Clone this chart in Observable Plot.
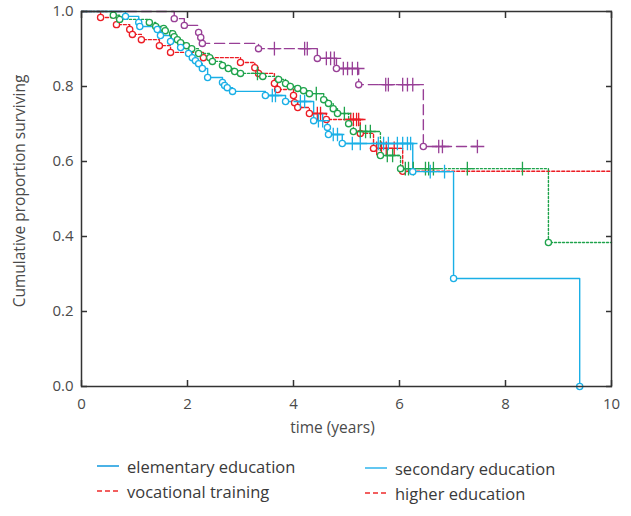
<!DOCTYPE html>
<html>
<head>
<meta charset="utf-8">
<script src="https://cdn.jsdelivr.net/npm/d3@7"></script>
<script src="https://cdn.jsdelivr.net/npm/@observablehq/plot@0.6"></script>
<style>
  body { margin: 0; background: #fff; font-family: "Open Sans", "Noto Sans", sans-serif; }
  #chart { width: 631px; }
  #legend { position: relative; width: 631px; height: 76px; color: #3a3a3a; font-size: 16.5px; }
  .item { position: absolute; display: flex; align-items: center; height: 25px; }
  .item svg { margin-right: 8px; }
</style>
</head>
<body>
<div id="chart"></div>
<div id="legend"></div>
<script>
// ---- data ----
const xTicks = [0, 2, 4, 6, 8, 10];
const yTicks = [0, 0.2, 0.4, 0.6, 0.8, 1.0];

const purpleT = [1.75, 1.94, 2.21, 2.25, 2.28, 3.34, 4.45, 4.81, 5.23, 6.45];
const purpleS = [0.981, 0.963, 0.944, 0.931, 0.915, 0.901, 0.875, 0.848, 0.805, 0.640];
const purpleCens = [3.64, 4.21, 4.26, 4.62, 4.70, 4.77, 4.94, 5.02, 5.11, 5.21, 5.74, 5.79, 6.06, 6.15, 6.25, 6.74, 6.81, 7.47];
const purpleEnd = 7.47;

const greenT = [0.60, 0.72, 1.28, 1.40, 1.55, 1.58, 1.72, 1.75, 1.81, 1.87, 1.98, 2.08, 2.21, 2.42, 2.47, 2.66, 2.77, 2.89, 3.00, 3.42, 3.72, 3.85, 3.94, 4.08, 4.19, 4.30, 4.57, 4.66, 4.75, 4.83, 5.04, 5.13, 5.64, 6.02, 8.81];
const greenS = [0.990, 0.979, 0.971, 0.960, 0.955, 0.949, 0.941, 0.933, 0.925, 0.917, 0.909, 0.901, 0.888, 0.877, 0.867, 0.856, 0.848, 0.840, 0.835, 0.827, 0.819, 0.808, 0.800, 0.795, 0.789, 0.781, 0.765, 0.755, 0.741, 0.728, 0.701, 0.680, 0.616, 0.581, 0.384];
const greenCens = [3.32, 4.43, 4.96, 5.26, 5.36, 5.45, 5.77, 5.87, 6.11, 6.17, 6.26, 6.49, 6.55, 6.64, 7.28, 8.32];
const greenEnd = 10;

const blueT = [0.83, 1.08, 1.10, 1.43, 1.49, 1.68, 1.87, 2.02, 2.09, 2.15, 2.21, 2.28, 2.38, 2.66, 2.70, 2.75, 2.85, 3.47, 3.85, 4.38, 4.64, 4.66, 4.92, 6.25, 7.02, 9.40];
const blueS = [0.987, 0.971, 0.960, 0.952, 0.936, 0.920, 0.904, 0.888, 0.877, 0.869, 0.861, 0.848, 0.824, 0.811, 0.803, 0.797, 0.787, 0.776, 0.760, 0.709, 0.691, 0.672, 0.648, 0.573, 0.288, 0.0];
const blueCens = [3.60, 3.66, 4.13, 4.21, 4.47, 4.55, 4.75, 4.83, 5.11, 5.26, 5.60, 5.70, 5.79, 5.96, 6.06, 6.15, 6.21, 6.58, 6.85];
const blueEnd = 9.40;

const redT = [0.36, 0.66, 0.91, 0.96, 1.13, 1.47, 1.68, 2.30, 3.00, 3.27, 3.34, 3.64, 3.70, 4.00, 4.02, 4.08, 4.30, 4.62, 5.26, 5.51, 6.06];
const redS = [0.984, 0.965, 0.952, 0.939, 0.925, 0.909, 0.891, 0.877, 0.864, 0.850, 0.835, 0.808, 0.792, 0.776, 0.757, 0.744, 0.728, 0.712, 0.675, 0.635, 0.574];
const redCens = [4.45, 4.51, 5.08, 5.13, 5.19, 5.23, 5.57, 5.66, 5.75, 5.90];
const redEnd = 10;

const legendLabels = ["elementary education", "vocational training", "secondary education", "higher education"];
const legendColors = ["#1f9fe0", "#ee2a2a", "#3cb9ee", "#ee2a2a"];
const legendDash = [null, "5,3", null, "5,3"];

const series = [
  {T: purpleT, S: purpleS, cens: purpleCens, end: purpleEnd, color: "#983f96", dash: "10,5"},
  {T: redT, S: redS, cens: redCens, end: redEnd, color: "#ec1c24", dash: "3,2"},
  {T: greenT, S: greenS, cens: greenCens, end: greenEnd, color: "#1fa34c", dash: "2,2"},
  {T: blueT, S: blueS, cens: blueCens, end: blueEnd, color: "#1aafe6", dash: null}
];

function survAt(s, t) {
  let v = 1;
  s.T.forEach((ti, i) => { if (ti <= t) v = s.S[i]; });
  return v;
}

const marks = [];
for (const s of series) {
  const pts = [{t: 0, S: 1}];
  s.T.forEach((t, i) => pts.push({t, S: s.S[i]}));
  pts.push({t: s.end, S: s.S[s.S.length - 1]});
  marks.push(Plot.line(pts, {x: "t", y: "S", curve: "step-after", stroke: s.color, strokeWidth: 1.4, strokeDasharray: s.dash}));
}
for (const s of series) {
  const cens = s.cens.map(t => ({t, S: survAt(s, t)}));
  marks.push(Plot.dot(cens, {x: "t", y: "S", symbol: "plus", r: 4.5, stroke: s.color, strokeWidth: 1.3}));
  const ev = s.T.map((t, i) => ({t, S: s.S[i]}));
  marks.push(Plot.dot(ev, {x: "t", y: "S", r: 3.1, stroke: s.color, fill: "white", strokeWidth: 1.3}));
}

const chart = Plot.plot({
  width: 631,
  height: 440,
  marginLeft: 81,
  marginRight: 20,
  marginTop: 11,
  marginBottom: 54,
  x: {domain: [0, 10], label: null},
  y: {domain: [0, 1], label: null},
  style: {fontFamily: "'Open Sans', 'Noto Sans', sans-serif", fontSize: "15px", color: "#4a4a4a", background: "white"},
  marks: [
    ...marks,
    Plot.frame({stroke: "#333", strokeWidth: 1.5}),
    Plot.axisX(xTicks, {anchor: "bottom", tickSize: -6, tickPadding: 18, stroke: "#333", strokeWidth: 1.5, label: null}),
    Plot.axisX(xTicks, {anchor: "top", tickSize: -6, tickFormat: () => "", stroke: "#333", strokeWidth: 1.5, label: null}),
    Plot.axisY(yTicks, {anchor: "left", tickSize: -6, tickPadding: 14, tickFormat: d3.format(".1f"), stroke: "#333", strokeWidth: 1.5, label: null}),
    Plot.axisY(yTicks, {anchor: "right", tickSize: -6, tickFormat: () => "", stroke: "#333", strokeWidth: 1.5, label: null}),
    Plot.text(["time (years)"], {frameAnchor: "bottom", dx: -14, dy: 46, text: d => d, fill: "#4a4a4a", fontSize: 15.5}),
    Plot.text(["Cumulative proportion surviving"], {frameAnchor: "left", textAnchor: "middle", rotate: -90, dx: -61, dy: -8, text: d => d, fill: "#4a4a4a", fontSize: 15.5})
  ]
});
document.getElementById("chart").appendChild(chart);

// legend
const legend = document.getElementById("legend");
const pos = [[97, 26], [97, 51], [365, 28], [365, 53]];
legendLabels.forEach((lab, i) => {
  const div = document.createElement("div");
  div.className = "item";
  div.style.left = pos[i][0] + "px";
  div.style.top = (pos[i][1] - 12.5) + "px";
  div.innerHTML = `<svg width="22" height="4"><line x1="0" y1="2" x2="22" y2="2" stroke="${legendColors[i]}" stroke-width="1.6" ${legendDash[i] ? `stroke-dasharray="${legendDash[i]}"` : ""}/></svg><span>${lab}</span>`;
  legend.appendChild(div);
});
</script>
</body>
</html>
